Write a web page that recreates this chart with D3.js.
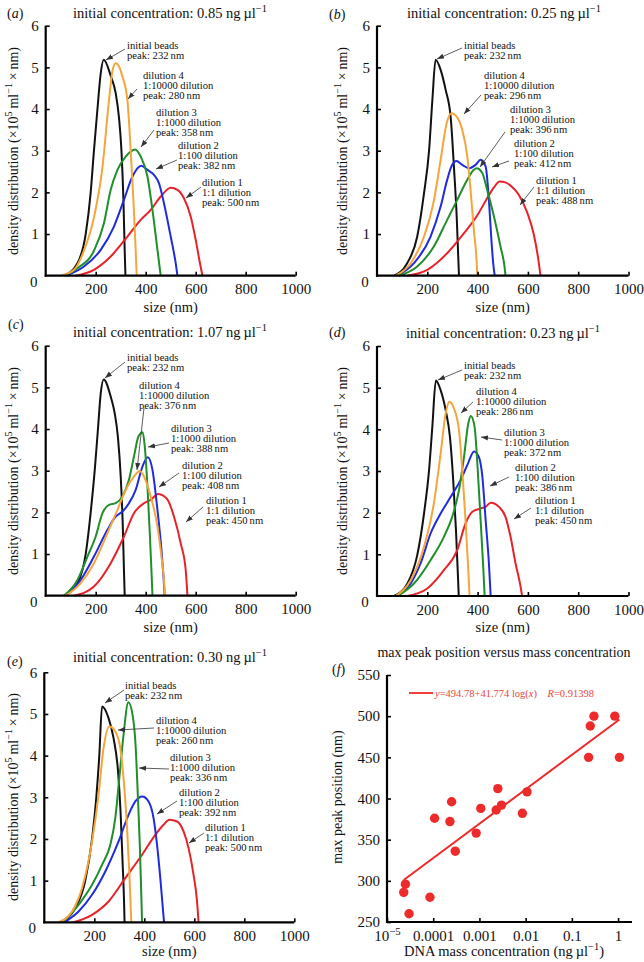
<!DOCTYPE html>
<html><head><meta charset="utf-8">
<script src="https://cdn.jsdelivr.net/npm/d3@7"></script>
<style>
body{margin:0;background:#fff}
svg{display:block}
text{font-family:"Liberation Serif","Times New Roman",serif;fill:#111}
</style>
</head><body><svg id="c" width="644" height="962"></svg>
<script>
// ---------------- DATA ----------------
const sizeTicks = [200, 400, 600, 800, 1000];
const densTicks = [1, 2, 3, 4, 5, 6];
const seriesNames = ["initial beads", "dilution 4", "dilution 3", "dilution 2", "dilution 1"];
const dilutionLabels = [null, "1:10000 dilution", "1:1000 dilution", "1:100 dilution", "1:1 dilution"];
const panelLetters = ["a", "b", "c", "d", "e"];
const panelConc = ["0.85", "0.25", "1.07", "0.23", "0.30"];

// peaks (nm) per panel: beads, d4, d3, d2, d1
const aPeaks = [232, 280, 358, 382, 500];
const bPeaks = [232, 296, 396, 412, 488];
const cPeaks = [232, 376, 388, 408, 450];
const dPeaks = [232, 286, 372, 386, 450];
const ePeaks = [232, 260, 336, 392, 500];

// size distributions [nm, density x1e5]
const aBeads = [[73,0],[127,0.3],[160,1],[180,2],[193,3],[207,4],[220,4.85],[232,5.18],[260,4.8],[280,4.38],[293,3.8],[303,3.0],[311,1.8],[316,0.6],[319,0]];
const aD4 = [[60,0],[113,0.14],[153,0.6],[193,1.4],[227,2.6],[253,4.2],[268,4.95],[280,5.1],[295,5.0],[307,4.78],[327,4.2],[340,3.0],[351,1.8],[360,0.6],[364,0]];
const aD3 = [[73,0],[127,0.18],[193,0.6],[233,1.26],[260,2.06],[287,2.54],[320,2.86],[358,3.03],[380,2.86],[407,2.38],[427,1.58],[447,0.62],[460,0]];
const aD2 = [[80,0],[153,0.22],[220,0.62],[273,1.18],[313,1.82],[347,2.38],[382,2.64],[407,2.54],[433,2.42],[453,2.22],[473,1.74],[500,0.94],[520,0.3],[527,0]];
const aD1 = [[120,0],[193,0.14],[260,0.46],[327,0.94],[380,1.34],[420,1.58],[460,1.9],[500,2.11],[527,2.06],[553,1.86],[580,1.42],[600,0.86],[617,0.3],[627,0]];

const bBeads = [[68,0],[120,0.3],[160,0.94],[187,1.98],[207,3.0],[220,4.2],[233,5.18],[253,4.94],[273,4.46],[293,3.8],[306,2.6],[317,1.4],[323,0.46],[326,0]];
const bD4 = [[74,0],[134,0.3],[187,0.94],[226,1.8],[253,2.78],[277,3.66],[296,3.9],[319,3.8],[339,3.5],[359,2.86],[372,2.06],[385,1.1],[395,0.46],[399,0]];
const bD3 = [[87,0],[160,0.22],[226,0.7],[279,1.34],[319,1.82],[359,2.3],[385,2.54],[396,2.58],[419,2.46],[438,2.06],[465,1.42],[491,0.7],[507,0.22],[511,0]];
const bD2 = [[81,0],[147,0.3],[213,0.94],[253,1.66],[279,2.3],[299,2.66],[316,2.75],[339,2.66],[366,2.58],[392,2.66],[412,2.78],[432,2.62],[445,1.82],[454,0.94],[462,0.3],[468,0]];
const bD1 = [[120,0],[200,0.14],[279,0.54],[346,1.02],[399,1.45],[438,1.86],[465,2.12],[488,2.26],[510,2.24],[535,2.14],[563,1.95],[597,1.52],[623,1.0],[640,0.45],[650,0]];

const cBeads = [[73,0],[127,0.3],[160,1],[180,2],[196,3],[209,4],[220,4.85],[232,5.19],[260,4.78],[276,4.38],[289,3.8],[300,2.86],[308,1.74],[313,0.62],[316,0]];
const cD4 = [[80,0],[140,0.3],[193,0.78],[247,1.5],[287,2.06],[327,2.62],[353,2.86],[376,2.99],[393,2.86],[420,2.38],[447,1.66],[463,0.94],[473,0.38],[477,0]];
const cD3 = [[73,0],[127,0.38],[167,0.94],[200,1.42],[227,1.98],[253,2.18],[280,2.22],[307,2.38],[333,2.78],[353,3.34],[371,3.82],[388,3.92],[396,3.6],[407,2.62],[417,1.42],[424,0.46],[427,0]];
const cD2 = [[80,0],[140,0.38],[193,0.94],[247,1.58],[280,1.9],[307,2.02],[333,2.22],[360,2.54],[387,3.1],[408,3.32],[427,3.02],[447,2.06],[463,1.1],[471,0.46],[476,0]];
const cD1 = [[113,0],[193,0.22],[260,0.78],[313,1.42],[353,1.98],[393,2.22],[420,2.3],[450,2.44],[470,2.4],[490,2.28],[513,1.9],[540,1.26],[560,0.62],[567,0]];

const dBeads = [[68,0],[121,0.3],[160,0.98],[187,1.98],[207,3.02],[220,4.06],[234,5.17],[253,4.94],[273,4.46],[290,3.82],[303,2.78],[314,1.58],[322,0.46],[325,0]];
const dD4 = [[74,0],[134,0.38],[187,1.18],[226,2.22],[253,3.42],[273,4.38],[288,4.66],[306,4.5],[326,3.98],[339,3.02],[352,1.82],[363,0.62],[368,0]];
const dD3 = [[81,0],[147,0.3],[213,0.86],[266,1.42],[299,1.9],[326,2.54],[346,3.34],[363,4.14],[373,4.32],[388,4.06],[399,3.18],[412,1.82],[423,0.62],[428,0]];
const dD2 = [[81,0],[134,0.3],[173,0.78],[213,1.5],[253,1.98],[293,2.38],[332,2.78],[359,3.14],[386,3.47],[405,3.34],[419,2.86],[432,1.82],[445,0.78],[452,0]];
const dD1 = [[120,0],[200,0.18],[266,0.62],[319,1.1],[352,1.74],[379,2.02],[412,2.1],[432,2.14],[452,2.24],[485,2.14],[511,1.9],[531,1.42],[551,0.78],[571,0.22],[577,0]];

const eBeads = [[64,0],[124,0.34],[164,1.0],[191,2.0],[208,3.0],[220,4.0],[231,5.18],[257,4.9],[277,4.42],[295,3.62],[305,2.66],[313,1.46],[319,0.5],[321,0]];
const eD4 = [[57,0],[111,0.26],[151,0.82],[191,1.94],[217,3.06],[237,4.18],[260,4.7],[284,4.58],[304,4.18],[317,3.46],[331,2.26],[341,1.06],[348,0]];
const eD3 = [[73,0],[137,0.42],[191,0.9],[231,1.38],[264,1.86],[284,2.5],[300,3.46],[317,4.5],[336,5.28],[355,4.9],[365,4.26],[374,3.06],[382,1.86],[388,0.66],[391,0]];
const eD2 = [[80,0],[137,0.26],[191,0.66],[244,1.22],[297,1.94],[337,2.58],[364,2.9],[392,3.02],[417,2.9],[437,2.5],[451,1.86],[464,1.06],[473,0.42],[479,0]];
const eD1 = [[117,0],[191,0.18],[257,0.5],[324,1.06],[391,1.62],[444,2.1],[477,2.34],[500,2.46],[531,2.42],[557,2.18],[577,1.78],[597,1.14],[611,0.5],[617,0]];

// panel f : DNA mass concentration (ng/ul) vs max peak position (nm)
const fConc = [0.85,0.0085,0.00085,0.000085, 0.25,0.0025,0.00025,0.000025, 1.07,0.0107,0.00107,0.000107, 0.23,0.0023,0.00023,0.000023, 0.30,0.003,0.0003,0.00003];
const fPeak = [500,382,358,280, 488,412,396,296, 450,408,388,376, 450,386,372,286, 500,392,336,260];
const fYTicks = [250, 300, 350, 400, 450, 500, 550];
const fXTicks = [1e-5, 1e-4, 1e-3, 1e-2, 1e-1, 1];
const fXTickLabels = ["10", "0.0001", "0.001", "0.01", "0.1", "1"];
const fitIntercept = 494.78, fitSlope = 41.774, fitR = 0.91398;

// ---------------- DRAW ----------------
const colors = ["#111111", "#f6a53a", "#1f8f2a", "#1f2be0", "#e8222a"];
const svg = d3.select("#c");
const defs = svg.append("defs");
defs.append("marker").attr("id","arr").attr("markerUnits","userSpaceOnUse")
  .attr("markerWidth",8).attr("markerHeight",6).attr("refX",7).attr("refY",3).attr("orient","auto")
  .append("path").attr("d","M0,0.4 L7,3 L0,5.6 z").attr("fill","#333");

function rich(t, parts, size){
  let back = 0;
  parts.forEach(p=>{
    if (typeof p === "string"){
      const s = t.append("tspan").text(p);
      if (back){ s.attr("dy", back); back = 0; }
    } else {
      const up = Math.round(size*0.4);
      t.append("tspan").attr("dy", -up).attr("font-size", size*0.72).text(p.sup);
      back = up;
    }
  });
}

const layouts = [
  {x0:45.7, x1:295.7, yB:275.7, yT:25.7, titleX:170, titleY:18, letterX:7, letterY:18, ylabX:18, ylabY:151, tickY:290, sizeY:312,
   ann:[{x:127,y:45,a:[125,49,106,60]},{x:143,y:75,a:[137,89,128,99]},{x:156,y:112,a:[154,130,141,147]},{x:178,y:145,a:[177,160,156,169]},{x:202,y:182,a:[201,187,186,198]}]},
  {x0:377, x1:628.5, yB:275.7, yT:25.7, titleX:504, titleY:18, letterX:329, letterY:19, ylabX:347, ylabY:151, tickY:290, sizeY:312,
   ann:[{x:464,y:45,a:[462,48,437,59]},{x:484,y:75,a:[481,95,464,114]},{x:510,y:109,a:[505,132,480,167]},{x:514,y:143,a:[509,161,492,167]},{x:536,y:180,a:[534,187,520,205]}]},
  {x0:45.7, x1:295.7, yB:595.7, yT:345.7, titleX:170, titleY:337, letterX:8, letterY:329, ylabX:18, ylabY:471, tickY:610, sizeY:632,
   ann:[{x:127,y:357,a:[125,362,105,378]},{x:139,y:385,a:[144,408,137,470]},{x:171,y:428,a:[169,443,148,447]},{x:182,y:465,a:[179,473,159,487]},{x:206,y:500,a:[203,507,186,522]}]},
  {x0:377, x1:628.5, yB:596, yT:346, titleX:503, titleY:338, letterX:329, letterY:337, ylabX:347, ylabY:471, tickY:610, sizeY:632,
   ann:[{x:464,y:365,a:[462,370,438,380]},{x:476,y:391,a:[473,402,461,413]},{x:504,y:432,a:[502,440,481,437]},{x:515,y:467,a:[509,477,490,486]},{x:535,y:500,a:[531,508,514,519]}]},
  {x0:44.3, x1:294.3, yB:922.3, yT:672.3, titleX:170, titleY:662, letterX:7, letterY:666, ylabX:18, ylabY:797, tickY:943, sizeY:956,
   ann:[{x:125,y:685,a:[124,690,105,703]},{x:156,y:720,a:[154,728,118,730]},{x:170,y:757,a:[169,769,139,768]},{x:179,y:792,a:[177,801,157,814]},{x:205,y:827,a:[204,833,189,843]}]}
];
const panelSeries = [
  [aBeads,aD4,aD3,aD2,aD1],[bBeads,bD4,bD3,bD2,bD1],[cBeads,cD4,cD3,cD2,cD1],[dBeads,dD4,dD3,dD2,dD1],[eBeads,eD4,eD3,eD2,eD1]
];
const panelPeaks = [aPeaks,bPeaks,cPeaks,dPeaks,ePeaks];

panelLetters.forEach((letter, i)=>{
  const L = layouts[i];
  const g = svg.append("g");
  const x = d3.scaleLinear().domain([0,1000]).range([L.x0, L.x1]);
  const y = d3.scaleLinear().domain([0,6]).range([L.yB, L.yT]);

  // curves
  const line = d3.line().x(d=>x(d[0])).y(d=>y(d[1])).curve(d3.curveMonotoneX);
  const order = [0,4,3,2,1];
  order.forEach(k=>{
    g.append("path").datum(panelSeries[i][k]).attr("d", line)
      .attr("fill","none").attr("stroke", colors[k]).attr("stroke-width",2).attr("stroke-linejoin","round");
  });

  // axes
  const ya = d3.axisLeft(y).tickValues(densTicks).tickSize(-4).tickPadding(7).tickFormat(d3.format("d"));
  const yg = g.append("g").attr("transform",`translate(${L.x0},0)`).call(ya);
  const xa = d3.axisBottom(x).tickValues(sizeTicks).tickSize(-4).tickPadding(8).tickFormat(d3.format("d"));
  const xg = g.append("g").attr("transform",`translate(0,${L.yB})`).call(xa);
  [yg,xg].forEach(a=>{
    a.select(".domain").remove();
    a.selectAll(".tick line").attr("stroke","#000").attr("stroke-width",1.6);
    a.selectAll(".tick text").attr("font-size",15).attr("font-family","Liberation Serif, serif").attr("fill","#111");
  });
  g.append("line").attr("x1",L.x0).attr("x2",L.x0).attr("y1",L.yB+1).attr("y2",L.yT).attr("stroke","#000").attr("stroke-width",2.2);
  g.append("line").attr("x1",L.x0-1).attr("x2",L.x1).attr("y1",L.yB).attr("y2",L.yB).attr("stroke","#000").attr("stroke-width",2.2);
  g.append("text").attr("x",L.x0-12).attr("y",L.yB+11).attr("text-anchor","middle").attr("font-size",15).text("0");

  // title
  const tt = g.append("text").attr("x",L.titleX).attr("y",L.titleY).attr("text-anchor","middle").attr("font-size",14.5);
  rich(tt, ["initial concentration: " + panelConc[i] + " ng\u2009\u00b5l", {sup:"\u22121"}], 14.5);
  // letter
  const lt = g.append("text").attr("x",L.letterX).attr("y",L.letterY).attr("font-size",14);
  lt.append("tspan").text("(");
  lt.append("tspan").attr("font-style","italic").text(letter);
  lt.append("tspan").text(")");
  // y label
  const yl = g.append("text").attr("transform",`translate(${L.ylabX},${L.ylabY}) rotate(-90)`).attr("text-anchor","middle").attr("font-size",14);
  rich(yl, ["density distribution (\u00d710", {sup:"5"}, "\u2009ml", {sup:"\u22121"}, "\u2009\u00d7\u2009nm)"], 14);
  // x label
  g.append("text").attr("x",(L.x0+L.x1)/2).attr("y",L.sizeY).attr("text-anchor","middle").attr("font-size",14.5).text("size (nm)");

  // annotations
  L.ann.forEach((an, k)=>{
    const lines = k===0 ? [seriesNames[0], "peak: " + panelPeaks[i][0] + "\u2009nm"]
                        : [seriesNames[k], dilutionLabels[k], "peak: " + panelPeaks[i][k] + "\u2009nm"];
    const t = g.append("text").attr("font-size",10.6).attr("fill","#222");
    lines.forEach((s,j)=>{
      t.append("tspan").attr("x",an.x).attr("y",an.y + 3.7 + j*10).text(s);
    });
    g.append("line").attr("x1",an.a[0]).attr("y1",an.a[1]).attr("x2",an.a[2]).attr("y2",an.a[3])
      .attr("stroke","#333").attr("stroke-width",0.8).attr("marker-end","url(#arr)");
  });
});

// ---------------- PANEL F ----------------
(function(){
  const g = svg.append("g");
  const x = d3.scaleLog().domain([1e-5, 2]).range([387, 632]);
  const y = d3.scaleLinear().domain([250, 550]).range([922, 675]);
  const red = "#ee2b2b";

  // fit line
  const xs = d3.extent(fConc);
  const fitPts = [xs[0], xs[1]].map(c=>[c, fitIntercept + fitSlope*Math.log10(c)]);
  g.append("path").datum(fitPts).attr("d", d3.line().x(d=>x(d[0])).y(d=>y(d[1])))
    .attr("stroke", red).attr("stroke-width",2).attr("fill","none");
  // dots
  g.selectAll("circle.pt").data(fConc.map((c,i)=>[c,fPeak[i]])).enter().append("circle")
    .attr("cx",d=>x(d[0])).attr("cy",d=>y(d[1])).attr("r",4.7).attr("fill",red);

  const ya = d3.axisLeft(y).tickValues(fYTicks).tickSize(-4).tickPadding(7).tickFormat(d3.format("d"));
  const yg = g.append("g").attr("transform","translate(387,0)").call(ya);
  const xa = d3.axisBottom(x).tickValues(fXTicks).tickSize(-4).tickPadding(8).tickFormat((d,i)=>fXTickLabels[i]);
  const xg = g.append("g").attr("transform","translate(0,922)").call(xa);
  [yg,xg].forEach(a=>{
    a.select(".domain").remove();
    a.selectAll(".tick line").attr("stroke","#000").attr("stroke-width",1.6);
    a.selectAll(".tick text").attr("font-size",15).attr("font-family","Liberation Serif, serif").attr("fill","#111");
  });
  xg.selectAll(".tick text").filter((d,i)=>i===0).each(function(){
    const t = d3.select(this); t.text("");
    rich(t, ["10", {sup:"\u22125"}], 15);
  });
  g.append("line").attr("x1",387).attr("x2",387).attr("y1",923).attr("y2",675).attr("stroke","#000").attr("stroke-width",2.2);
  g.append("line").attr("x1",386).attr("x2",632).attr("y1",922).attr("y2",922).attr("stroke","#000").attr("stroke-width",2.2);

  g.append("text").attr("x",504).attr("y",657).attr("text-anchor","middle").attr("font-size",14).text("max peak position versus mass concentration");
  const lt = g.append("text").attr("x",332).attr("y",674).attr("font-size",14);
  lt.append("tspan").text("("); lt.append("tspan").attr("font-style","italic").text("f"); lt.append("tspan").text(")");
  g.append("text").attr("transform","translate(342,797) rotate(-90)").attr("text-anchor","middle").attr("font-size",14).text("max peak position (nm)");
  const xt = g.append("text").attr("x",504).attr("y",956).attr("text-anchor","middle").attr("font-size",14.5);
  rich(xt, ["DNA mass concentration (ng\u2009\u00b5l", {sup:"\u22121"}, ")"], 14.5);

  // legend
  g.append("line").attr("x1",409).attr("x2",433).attr("y1",693).attr("y2",693).attr("stroke",red).attr("stroke-width",1.8);
  const lg = g.append("text").attr("x",435).attr("y",696.5).attr("font-size",10.5).attr("fill","#e8473c");
  lg.append("tspan").attr("font-style","italic").text("y");
  lg.append("tspan").text("=" + fitIntercept + "+" + fitSlope + " log(");
  lg.append("tspan").attr("font-style","italic").text("x");
  lg.append("tspan").text(")\u2003");
  lg.append("tspan").attr("font-style","italic").text("R");
  lg.append("tspan").text("=" + fitR);
  lg.selectAll("tspan").attr("fill","#e8473c");
})();
</script>
</body></html>
